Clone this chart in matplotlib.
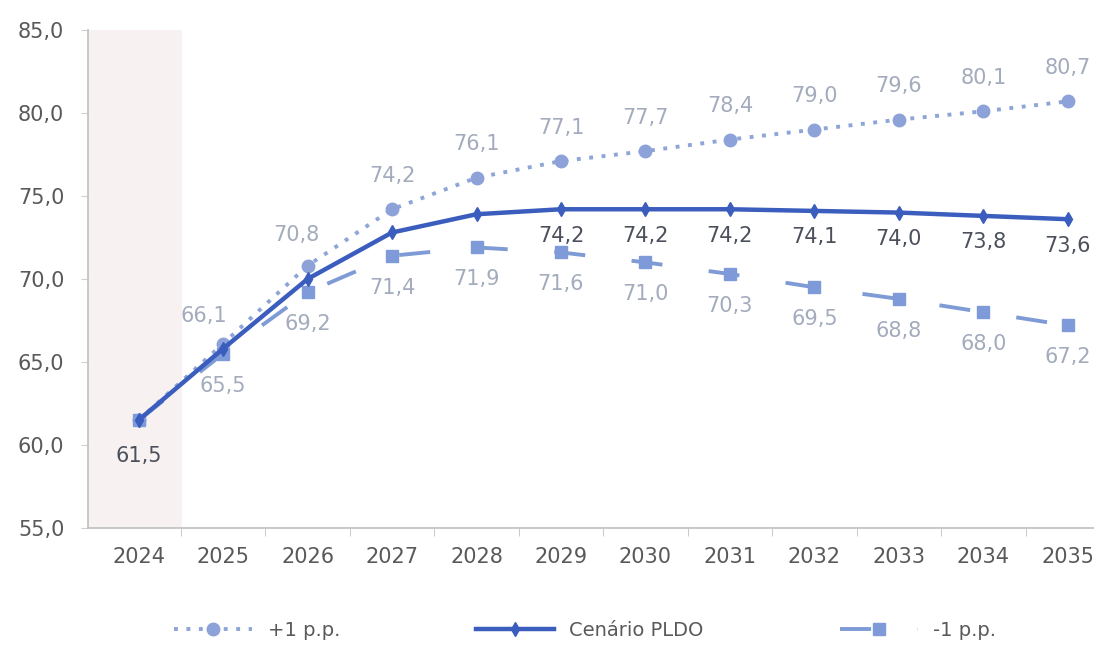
import matplotlib
matplotlib.use("Agg")
import matplotlib.pyplot as plt

# anos do cenário
years = ["2024", "2025", "2026", "2027", "2028", "2029",
         "2030", "2031", "2032", "2033", "2034", "2035"]

# trajetórias (% do PIB)
mais_1pp = [61.5, 66.1, 70.8, 74.2, 76.1, 77.1, 77.7, 78.4, 79.0, 79.6, 80.1, 80.7]
pldo = [61.5, 65.8, 70.0, 72.8, 73.9, 74.2, 74.2, 74.2, 74.1, 74.0, 73.8, 73.6]
menos_1pp = [61.5, 65.5, 69.2, 71.4, 71.9, 71.6, 71.0, 70.3, 69.5, 68.8, 68.0, 67.2]

y_ticks = [55, 60, 65, 70, 75, 80, 85]


def fmt(v):
    return f"{v:.1f}".replace(".", ",")


fig = plt.figure(figsize=(10.94, 6.46), dpi=100)
ax = fig.add_axes([0.0804, 0.1827, 0.9196, 0.7709])

x = list(range(len(years)))

# faixa sombreada do ano realizado
ax.axvspan(-0.6, 0.51, color="#F7F1F1", zorder=0, lw=0)

c_up = "#8EA5D8"
c_mid = "#3A5DBE"
c_dn = "#7F9BD6"

ax.plot(x, mais_1pp, color=c_up, lw=2.8, ls=(0, (1, 2.2)),
        marker="o", ms=9, mfc="#8DA2D8", mec="#8DA2D8", label="+1 p.p.", zorder=3)
ax.plot(x, menos_1pp, color=c_dn, lw=2.8, ls=(0, (8, 12)),
        marker="s", ms=9, mfc="#7E9AD8", mec="#7E9AD8", label="-1 p.p.", zorder=3)
ax.plot(x, pldo, color=c_mid, lw=3.2, marker="d", ms=7,
        mfc=c_mid, mec=c_mid, label="Cenário PLDO", zorder=4)

lab_light = "#A3ABBC"
lab_dark = "#4B505B"
fs = 15

# rótulos
for i, v in enumerate(mais_1pp):
    if i == 0:
        continue
    dx, dy = 0, 24
    if i == 1:
        dx, dy = -14, 20
    elif i == 2:
        dx, dy = -8, 22
    ax.annotate(fmt(v), (i, v), xytext=(dx, dy), textcoords="offset points",
                ha="center", va="center", fontsize=fs, color=lab_light)

for i, v in enumerate(menos_1pp):
    if i == 0:
        continue
    dx, dy = 0, -23
    ax.annotate(fmt(v), (i, v), xytext=(dx, dy), textcoords="offset points",
                ha="center", va="center", fontsize=fs, color=lab_light)

for i, v in enumerate(pldo):
    if i != 0 and i < 5:
        continue
    dy = -19
    if i == 0:
        dy = -26
    ax.annotate(fmt(v), (i, v), xytext=(0, dy), textcoords="offset points",
                ha="center", va="center", fontsize=fs, color=lab_dark)

ax.set_xlim(-0.6, 11.31)
ax.set_ylim(55, 85)
ax.set_yticks(y_ticks)
ax.set_yticklabels([fmt(t) for t in y_ticks])
ax.set_xticks(x)
ax.set_xticklabels(years)
ax.set_xticks([i + 0.5 for i in range(len(years) - 1)], minor=True)

for s in ["top", "right"]:
    ax.spines[s].set_visible(False)
for s in ["left", "bottom"]:
    ax.spines[s].set_color("#BFBFBF")
    ax.spines[s].set_linewidth(1.2)

ax.tick_params(axis="x", which="major", length=0, pad=14, labelsize=fs, labelcolor="#595959")
ax.tick_params(axis="x", which="minor", length=6, color="#BFBFBF", direction="out")
ax.tick_params(axis="y", length=5, color="#D0D0D0", pad=12, labelsize=fs, labelcolor="#595959")

h, l = ax.get_legend_handles_labels()
order = [0, 2, 1]
fig.legend([h[k] for k in order], [l[k] for k in order], loc="center",
           bbox_to_anchor=(0.535, 0.024), ncol=3, frameon=False,
           fontsize=14, handlelength=4, columnspacing=7, labelcolor="#595959")

fig.savefig("out.png", dpi=100)
